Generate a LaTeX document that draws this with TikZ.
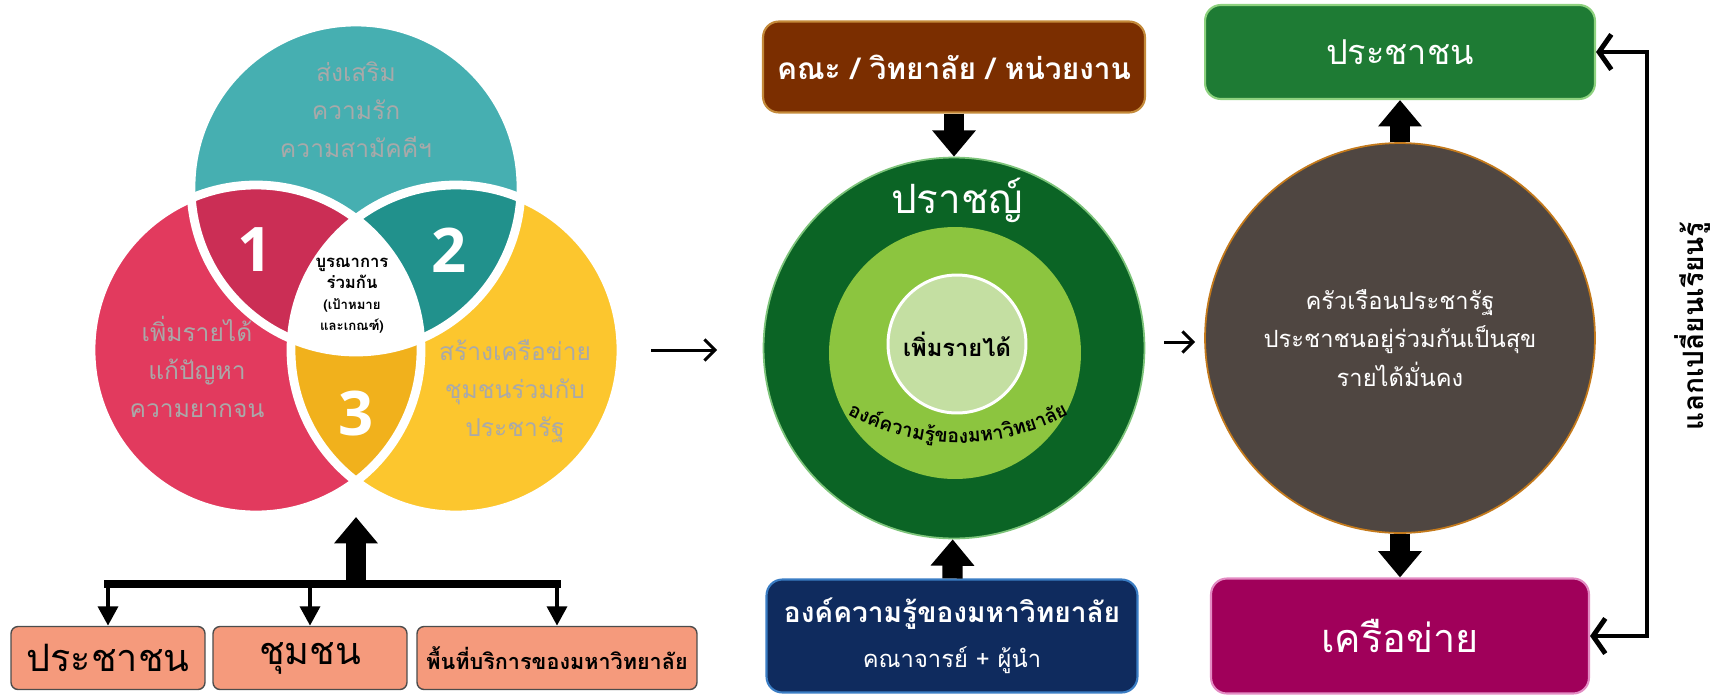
\documentclass[tikz,border=0pt]{standalone}
\usepackage{fontspec}
\setmainfont{Loma}[Script=Thai]
\newfontfamily\numfont{Open Sans}
\usepackage{tikz}
\usetikzlibrary{arrows.meta,positioning,shapes.geometric,decorations.text}
\definecolor{vteal}{HTML}{46AFB1}
\definecolor{vred}{HTML}{E23A5E}
\definecolor{vyellow}{HTML}{FCC62E}
\definecolor{vone}{HTML}{CB2E55}
\definecolor{vtwo}{HTML}{21918C}
\definecolor{vthree}{HTML}{F1B11C}
\definecolor{vtext}{HTML}{A9A9A9}
\definecolor{salmon}{HTML}{F59A7C}
\definecolor{facbrown}{HTML}{7B2E00}
\definecolor{facrim}{HTML}{C48A3A}
\definecolor{sagegreen}{HTML}{0B6425}
\definecolor{sagerim}{HTML}{7DC47A}
\definecolor{midgreen}{HTML}{8CC53F}
\definecolor{palegreen}{HTML}{C4DFA2}
\definecolor{univnavy}{HTML}{0F2B5E}
\definecolor{univrim}{HTML}{3A7DC4}
\definecolor{peogreen}{HTML}{1E7B34}
\definecolor{peorim}{HTML}{8ED27F}
\definecolor{hhfill}{HTML}{4F4641}
\definecolor{hhrim}{HTML}{C47A1C}
\definecolor{netpink}{HTML}{A0005A}
\definecolor{netrim}{HTML}{E38BC3}
\newcommand{\fsz}[2]{\fontsize{#1}{#2}\selectfont}

\begin{document}
\begin{tikzpicture}[x=0.02cm,y=0.02cm,
    vlabel/.style={align=center,text=vtext,font=\fsz{14}{21.7}},
    vnum/.style={text=white,font=\numfont\bfseries\fsz{35}{40}},
    areabox/.style={draw=black!70,fill=salmon,rounded corners=4pt,line width=0.8pt,
                    minimum width=3.88cm,minimum height=1.26cm,inner sep=0pt},
    roundbox/.style={rounded corners=9pt,line width=1.2pt,align=center,text=white,inner sep=0pt},
    fatarrow/.style={line width=11.5pt,-{Triangle[length=15pt,width=24pt]}},
    slimarrow/.style={line width=2.8pt,-{Triangle[length=11pt,width=11pt]}},
    pointer/.style={line width=1.7pt,-{Straight Barb[length=6pt,width=12pt]}},
    loopback/.style={line width=2.8pt,{Straight Barb[length=7pt,width=20pt]}-{Straight Barb[length=7pt,width=20pt]}}]
  \useasboundingbox (0,0) rectangle (1717,-697);

  % three circles
  \def\vrad{165}
  \coordinate (ct) at (356,-187);
  \coordinate (cr) at (256,-350);
  \coordinate (cy) at (456,-350);
  \fill[vteal] (ct) circle (\vrad);
  \fill[vred] (cr) circle (\vrad);
  \fill[vyellow] (cy) circle (\vrad);
  \begin{scope}
    \clip (ct) circle (\vrad);
    \fill[vone] (cr) circle (\vrad);
    \fill[vtwo] (cy) circle (\vrad);
  \end{scope}
  \begin{scope}
    \clip (cr) circle (\vrad);
    \fill[vthree] (cy) circle (\vrad);
  \end{scope}
  \begin{scope}
    \clip (ct) circle (\vrad);
    \clip (cr) circle (\vrad);
    \fill[white] (cy) circle (\vrad);
  \end{scope}
  \foreach \c in {ct,cr,cy}
    \draw[white,line width=5pt] (\c) circle (\vrad);

  \node[vlabel] (love) at (356,-110) {ส่งเสริม\\ความรัก\\ความสามัคคีฯ};
  \node[vlabel] (poor) at (197,-367) {เพิ่มรายได้\\แก้ปัญหา\\ความยากจน};
  \node[vlabel] (link) at (515,-391) {สร้างเครือข่าย\\ชุมชนร่วมกับ\\ประชารัฐ};
  \node[vnum] (one) at (255,-250) {1};
  \node[vnum] (two) at (449,-250) {2};
  \node[vnum] (three) at (356,-414) {3};
  \node[align=center,font=\bfseries\fsz{9.5}{12}] (core) at (352,-296)
    {บูรณาการ\\ร่วมกัน\\{\fsz{7.5}{10}(เป้าหมาย}\\{\fsz{7.5}{10}และเกณฑ์)}};
  \coordinate (vbot) at (356,-517);

  % target groups
  \node[areabox,font=\fsz{21.5}{25}] (peo1) at (108,-658) {ประชาชน};
  \node[areabox,font=\fsz{21.5}{25}] (comm) at (310,-658) {ชุมชน};
  \node[areabox,minimum width=5.6cm,font=\bfseries\fsz{12.3}{15}] (area) at (557,-658) {พื้นที่บริการของมหาวิทยาลัย};
  \coordinate (bar) at (356,-584);
  \draw[line width=4.5pt,line cap=rect] (peo1.north |- bar) -- (area.north |- bar);
  \draw[fatarrow] (bar) -- (vbot);
  \foreach \b in {peo1,comm,area}
    \draw[slimarrow] (\b.north |- bar) -- (\b.north);

  \coordinate (p1a) at (651,-350);
  \coordinate (p1b) at (717,-350);
  \draw[pointer] (p1a) -- (p1b);

  % wisdom rings
  \node[roundbox,fill=facbrown,draw=facrim,minimum width=7.64cm,minimum height=1.82cm,
        font=\bfseries\fsz{17}{20}] (fac) at (954,-67) {คณะ / วิทยาลัย / หน่วยงาน};
  \node[circle,fill=sagegreen,draw=sagerim,line width=1pt,minimum size=7.62cm] (wis) at (954,-348) {};
  \node[circle,fill=midgreen,minimum size=5.04cm] (kn) at (955,-353) {};
  \node[circle,fill=palegreen,draw=white,line width=1.7pt,minimum size=2.76cm,
        font=\bfseries\fsz{13.5}{16}] (inc) at (957,-344) {เพิ่มรายได้};
  \node[text=white,font=\fsz{23}{26}] (sage) at (957,-200) {ปราชญ์};
  \path[decorate,decoration={text along path,text align=center,
        text={|\bfseries\fsz{11}{13}|อง{ค์}ความ{รู้}ของมหา{วิ}ทยา{ลั}ย}}]
    (958,-213) ++(242:230) arc[start angle=242,end angle=298,radius=230];
  \node[roundbox,fill=univnavy,draw=univrim,minimum width=7.42cm,minimum height=2.26cm] (univ) at (952,-636)
    {{\bfseries\fsz{16}{19}องค์ความรู้ของมหาวิทยาลัย}\\[9pt]{\fsz{13.5}{15}คณาจารย์ + ผู้นำ}};
  \draw[fatarrow] (fac) -- (wis);
  \draw[fatarrow] (univ) -- (wis);

  \coordinate (p2a) at (1164,-342);
  \coordinate (p2b) at (1195,-342);
  \draw[pointer] (p2a) -- (p2b);

  % outcome
  \node[roundbox,fill=peogreen,draw=peorim,minimum width=7.8cm,minimum height=1.88cm,
        font=\fsz{19.5}{23}] (peo2) at (1400,-52) {ประชาชน};
  \node[circle,fill=hhfill,draw=hhrim,line width=1pt,minimum size=7.8cm,inner sep=0pt,
        align=center,text=white,font=\fsz{13.5}{22}] (hh) at (1400,-338)
    {ครัวเรือนประชารัฐ\\ประชาชนอยู่ร่วมกันเป็นสุข\\รายได้มั่นคง};
  \node[roundbox,fill=netpink,draw=netrim,minimum width=7.56cm,minimum height=2.3cm,
        font=\fsz{22.5}{26}] (net) at (1400,-636) {เครือข่าย};
  \draw[fatarrow] (hh) -- (peo2);
  \draw[fatarrow] (hh) -- (net);
  \draw[loopback] (peo2.east) -- ++(51,0) |- (net.east);
  \node[rotate=90,font=\bfseries\fsz{16}{19}] (swap) at (1692,-326) {แลกเปลี่ยนเรียนรู้};
\end{tikzpicture}
\end{document}
